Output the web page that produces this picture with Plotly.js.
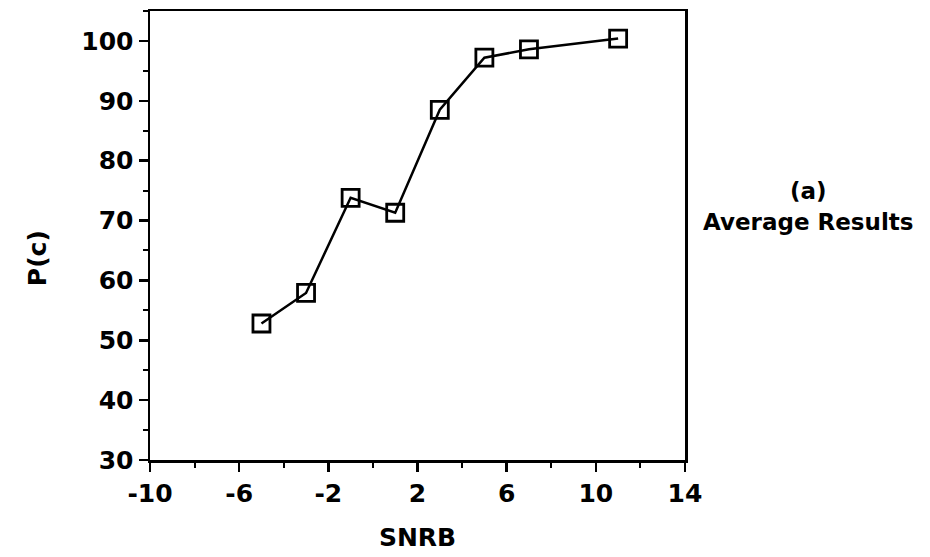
<!DOCTYPE html>
<html>
<head>
<meta charset="utf-8">
<script src="https://cdn.plot.ly/plotly-3.0.1.min.js"></script>
<style>html,body{margin:0;padding:0;background:#fff;}#chart{width:930px;height:557px;}</style>
</head>
<body>
<div id="chart"></div>
<script>
const snrb = [-5, -3, -1, 1, 3, 5, 7, 11];
const pc = [52.8, 57.9, 73.8, 71.3, 88.5, 97.2, 98.6, 100.4];
const xTicks = [-10, -6, -2, 2, 6, 10, 14];
const yTicks = [30, 40, 50, 60, 70, 80, 90, 100];
const xTitle = 'SNRB';
const yTitle = 'P(c)';
const noteA = '(a)';
const noteB = 'Average Results';

const fam = 'DejaVu Sans, Liberation Sans, Arial, sans-serif';

const trace = {
  x: snrb, y: pc, type: 'scatter', mode: 'lines+markers',
  line: {color: '#000', width: 2.5},
  marker: {symbol: 'square-open', size: 17, color: '#000', line: {width: 2.8, color: '#000'}},
  showlegend: false, hoverinfo: 'x+y'
};

const axisCommon = {
  showgrid: false, zeroline: false, showline: true, linecolor: '#000', linewidth: 2.5,
  mirror: true, ticks: 'outside', ticklen: 9, tickwidth: 2.5, tickcolor: '#000',
  tickfont: {family: fam, size: 25, color: '#000', weight: 'bold'}
};

const layout = {
  width: 930, height: 557,
  margin: {l: 150, r: 245, t: 11, b: 97},
  paper_bgcolor: '#fff', plot_bgcolor: '#fff',
  xaxis: Object.assign({}, axisCommon, {
    range: [-10, 14], tickvals: xTicks, ticktext: xTicks.map(String),
    minor: {dtick: 2, tick0: -10, ticks: 'outside', ticklen: 5, tickwidth: 2, tickcolor: '#000'},
    title: {text: xTitle, standoff: 22, font: {family: fam, size: 25, color: '#000', weight: 'bold'}}
  }),
  yaxis: Object.assign({}, axisCommon, {
    range: [30, 105], tickvals: yTicks, ticktext: yTicks.map(String),
    minor: {dtick: 5, tick0: 30, ticks: 'outside', ticklen: 5, tickwidth: 2, tickcolor: '#000'},
    title: {text: ''}
  }),
  annotations: [
    {text: yTitle, xref: 'paper', yref: 'paper', x: -0.209, y: 0.45, showarrow: false, textangle: -90,
     xanchor: 'center', yanchor: 'middle',
     font: {family: fam, size: 25, color: '#000', weight: 'bold'}},
    {text: noteA, xref: 'paper', yref: 'paper', x: 1.23, y: 0.6, showarrow: false,
     xanchor: 'center', yanchor: 'middle',
     font: {family: fam, size: 23, color: '#000', weight: 'bold'}},
    {text: noteB, xref: 'paper', yref: 'paper', x: 1.23, y: 0.53, showarrow: false,
     xanchor: 'center', yanchor: 'middle',
     font: {family: fam, size: 23, color: '#000', weight: 'bold'}}
  ]
};

Plotly.newPlot('chart', [trace], layout, {displayModeBar: false, staticPlot: true});
</script>
</body>
</html>
